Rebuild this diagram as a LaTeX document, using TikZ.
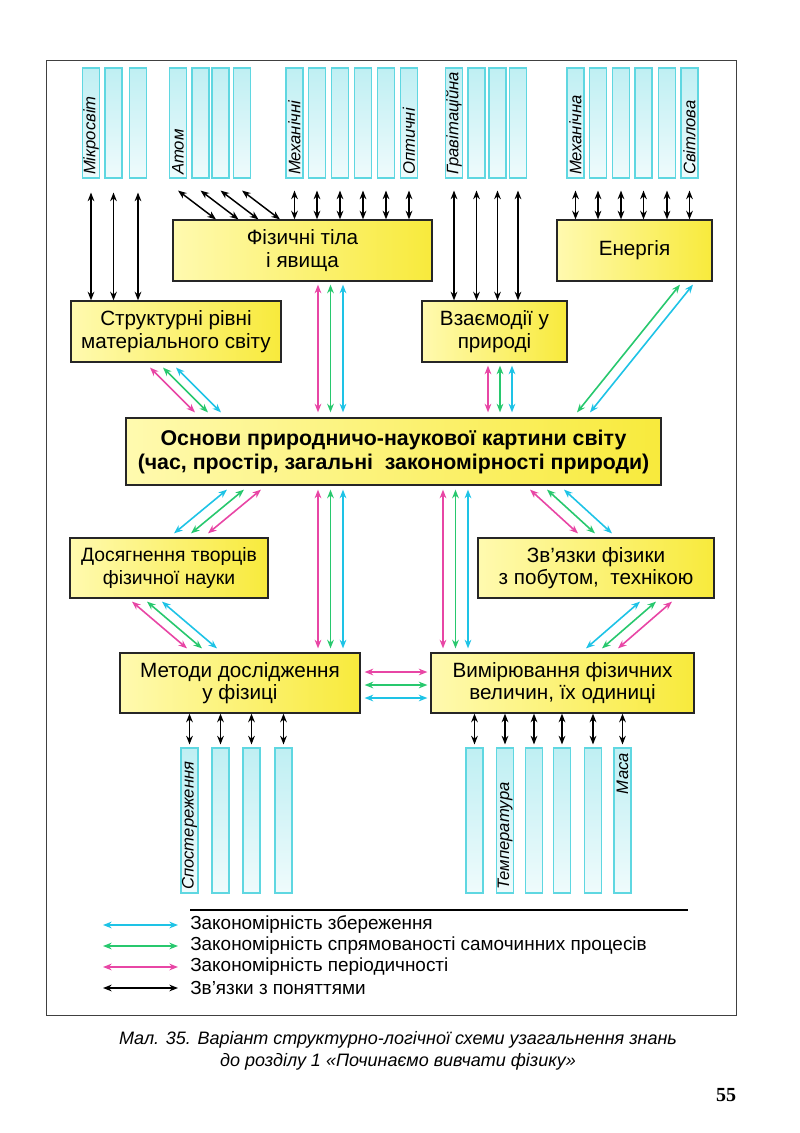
\documentclass[tikz,border=0pt]{standalone}
\usepackage{fontspec}
\setmainfont{Liberation Sans}
\newfontfamily\pagefont{Liberation Serif}
\usetikzlibrary{arrows.meta,calc}
\definecolor{boxyel}{RGB}{248,234,60}
\definecolor{boxlight}{RGB}{255,250,175}
\definecolor{colcyan}{RGB}{95,215,225}
\definecolor{conscol}{RGB}{30,195,230}
\definecolor{dircol}{RGB}{40,200,110}
\definecolor{percol}{RGB}{232,70,165}
\begin{document}
\begin{tikzpicture}[x=0.75pt,y=-0.75pt,
  box/.style 2 args={draw=black!85,line width=0.9pt,left color=boxlight,right color=boxyel,
    minimum width=#1*0.75pt,minimum height=#2*0.75pt,inner sep=0pt,align=center,
    font=\fontsize{15.5}{17}\selectfont},
  col/.style={draw=colcyan,line width=0.8pt,top color=colcyan!40!white,bottom color=colcyan!10!white,
    minimum width=17*0.75pt,minimum height=#1*0.75pt,inner sep=0pt},
  collab/.style={rotate=90,inner sep=1pt,font=\fontsize{12.5}{13}\selectfont\itshape},
  blk/.style={{Stealth[length=6.5pt,width=5pt]}-{Stealth[length=6.5pt,width=5pt]},line width=1.1pt,draw=black},
  cons/.style={blk,draw=conscol,line width=1.2pt},
  dirn/.style={blk,draw=dircol,line width=1.2pt},
  peri/.style={blk,draw=percol,line width=1.2pt},
  legtext/.style={anchor=west,inner sep=0pt,font=\fontsize{14.2}{15}\selectfont}]
\useasboundingbox (0,0) rectangle (800,1133);
\draw[line width=0.6pt,black!75] (46,60) rectangle (736,1015);
\draw[line width=0.9pt] (190,910) -- (688,910);

\node[box={259}{61}] (fiz) at (302.5,250.5) {Фізичні тіла\\і явища};
\node[box={155}{61}] (energ) at (634.5,250.5) {Енергія};
\node[box={210}{61}] (struct) at (176,331.5) {Структурні рівні\\матеріального світу};
\node[box={145}{61}] (vzaem) at (494.5,331.5) {Взаємодії у\\природі};
\node[box={535}{67},font=\fontsize{16}{18}\selectfont\bfseries] (osn) at (393.5,451.5)
  {Основи природничо-наукової картини світу\\(час, простір, загальні\ \ закономірності природи)};
\node[box={198}{60},font=\fontsize{14.5}{17}\selectfont] (dosyag) at (169,568) {Досягнення творців\\фізичної науки};
\node[box={236}{60}] (zvyaz) at (596,568) {Зв'язки фізики\\з побутом,\ \ технікою};
\node[box={240}{60}] (metod) at (240,683) {Методи дослідження\\у фізиці};
\node[box={263}{60}] (vymir) at (562.5,683) {Вимірювання фізичних\\величин, їх одиниці};

\foreach \x [count=\i] in {91,113.5,138}
  \node[col=110] (m\i) at (\x,123) {};
\foreach \x [count=\i] in {178,200.5,220.5,242}
  \node[col=110] (a\i) at (\x,123) {};
\foreach \x [count=\i] in {294.5,317,340,363,386,409}
  \node[col=110] (p\i) at (\x,123) {};
\foreach \x [count=\i] in {454,476.5,497.5,518}
  \node[col=110] (g\i) at (\x,123) {};
\foreach \x [count=\i] in {575.5,598,621,643.5,667,689.5}
  \node[col=110] (e\i) at (\x,123) {};
\foreach \x [count=\i] in {189.5,220.5,251.5,283.5}
  \node[col=145] (s\i) at (\x,820.5) {};
\foreach \x [count=\i] in {474.5,505,534,562,593,622.5}
  \node[col=145] (t\i) at (\x,820.5) {};

\node[collab,anchor=west] at ($(m1.south)+(0,-2)$) {Мікросвіт};
\node[collab,anchor=west] at ($(a1.south)+(0,-2)$) {Атом};
\node[collab,anchor=west] at ($(p1.south)+(0,-2)$) {Механічні};
\node[collab,anchor=west] at ($(p6.south)+(0,-2)$) {Оптичні};
\node[collab,anchor=west] at ($(g1.south)+(0,-2)$) {Гравітаційна};
\node[collab,anchor=west] at ($(e1.south)+(0,-2)$) {Механічна};
\node[collab,anchor=west] at ($(e6.south)+(0,-2)$) {Світлова};
\node[collab,anchor=west] at ($(s1.south)+(0,-2)$) {Спостереження};
\node[collab,anchor=west] at ($(t2.south)+(0,-2)$) {Температура};
\node[collab,anchor=east] at ($(t6.north)+(0,4)$) {Маса};

\foreach \i in {1,2,3}
  \draw[blk] ($(m\i.south)+(0,14)$) -- (m\i.south |- struct.north);
\foreach \i in {1,...,4}
  \draw[blk] ($(a\i.south)+(0,12)$) -- ($(a\i.south |- fiz.north)+(38,0)$);
\foreach \i in {1,...,6}
  \draw[blk] ($(p\i.south)+(0,12)$) -- (p\i.south |- fiz.north);
\foreach \i in {1,...,4}
  \draw[blk] ($(g\i.south)+(0,12)$) -- (g\i.south |- vzaem.north);
\foreach \i in {1,...,6}
  \draw[blk] ($(e\i.south)+(0,12)$) -- (e\i.south |- energ.north);
\foreach \i in {1,...,4}
  \draw[blk] (s\i.north |- metod.south) -- ($(s\i.north)+(0,-3)$);
\foreach \i in {1,...,6}
  \draw[blk] (t\i.north |- vymir.south) -- ($(t\i.north)+(0,-3)$);

\foreach \c [count=\k from 0] in {peri,dirn,cons} {
  \draw[\c] ($(struct.south)+(-26+13*\k,5)$) -- ($(struct.south |- osn.north)+(19+13*\k,-5)$);
  \draw[\c] ($(fiz.south)+(15.5+12.5*\k,3)$) -- ($(fiz.south |- osn.north)+(15.5+12.5*\k,-5)$);
  \draw[\c] ($(vzaem.south)+(-6.5+12*\k,3)$) -- ($(vzaem.south |- osn.north)+(-6.5+12*\k,-5)$);
  \draw[\c] ($(osn.south)+(-75.5+12.5*\k,4)$) -- ($(osn.south |- metod.north)+(-75.5+12.5*\k,-4)$);
  \draw[\c] ($(osn.south)+(49.5+12.5*\k,4)$) -- ($(osn.south |- vymir.north)+(49.5+12.5*\k,-4)$);
  \draw[\c] ($(osn.south)+(136.5+17*\k,4)$) -- ($(zvyaz.north)+(-18+17*\k,-4)$);
  \draw[\c] ($(dosyag.south)+(-37+15*\k,3)$) -- ($(metod.north)+(-53+15*\k,-4)$);
  \draw[\c] ($(metod.east)+(4,-11+13*\k)$) -- ($(vymir.west)+(-3,-11+13*\k)$);
}
\foreach \c [count=\k from 0] in {cons,dirn,peri} {
  \draw[\c] ($(osn.south)+(-166.5+17*\k,4)$) -- ($(dosyag.north)+(5+17*\k,-4)$);
  \draw[\c] ($(zvyaz.south)+(44+16*\k,3)$) -- ($(vymir.north)+(23.5+16*\k,-4)$);
}
\foreach \c [count=\k from 0] in {dirn,cons}
  \draw[\c] ($(energ.south)+(45.5+13*\k,3)$) -- ($(energ.south |- osn.north)+(-57.5+13*\k,-5)$);

\node[legtext] (l1) at (190,925) {Закономірність збереження};
\node[legtext] (l2) at (190,946) {Закономірність спрямованості самочинних процесів};
\node[legtext] (l3) at (190,967) {Закономірність періодичності};
\node[legtext] (l4) at (190,988) {Зв'язки з поняттями};
\draw[cons] ($(l1.west)+(-87,0)$) -- ($(l1.west)+(-12,0)$);
\draw[dirn] ($(l2.west)+(-87,0)$) -- ($(l2.west)+(-12,0)$);
\draw[peri] ($(l3.west)+(-87,0)$) -- ($(l3.west)+(-12,0)$);
\draw[blk] ($(l4.west)+(-87,0)$) -- ($(l4.west)+(-12,0)$);

\node[align=center,font=\fontsize{13.5}{16.5}\selectfont\itshape] (cap) at (398,1051)
  {Мал. 35. Варіант структурно-логічної схеми узагальнення знань\\до розділу 1 «Починаємо вивчати фізику»};
\node[font=\fontsize{15}{16}\pagefont\bfseries] (page) at (726,1095) {55};
\end{tikzpicture}
\end{document}
